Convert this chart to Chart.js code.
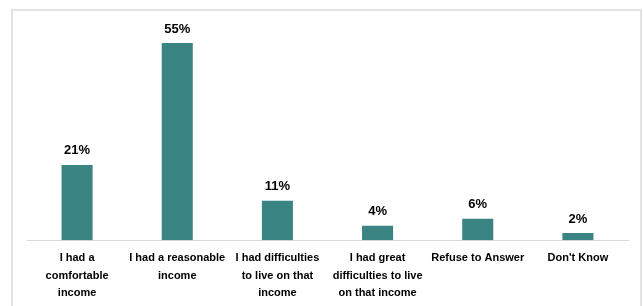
<!DOCTYPE html>
<html>
<head>
<meta charset="utf-8">
<script src="https://cdn.jsdelivr.net/npm/chart.js@4"></script>
<style>
  html, body { margin: 0; padding: 0; background: #fff; overflow: hidden; width: 643px; height: 306px; }
  #frame {
    position: absolute; left: 11px; top: 9px; width: 631px; height: 400px;
    border: 2px solid #e3e3e3; box-sizing: border-box;
  }
  #chart { position: absolute; left: 0; top: 0; }
</style>
</head>
<body>
<div id="frame"></div>
<canvas id="chart" width="643" height="313"></canvas>
<script>
var categories = [
  ['I had a', 'comfortable', 'income'],
  ['I had a reasonable', 'income'],
  ['I had difficulties', 'to live on that', 'income'],
  ['I had great', 'difficulties to live', 'on that income'],
  'Refuse to Answer',
  "Don't Know"
];
var values = [21, 55, 11, 4, 6, 2];

// etiquetas de valor em cima das barras
var valueLabels = {
  id: 'valueLabels',
  afterDatasetsDraw: function (chart) {
    var ctx = chart.ctx;
    var meta = chart.getDatasetMeta(0);
    ctx.save();
    ctx.font = 'bold 13px "Liberation Sans", Arial, sans-serif';
    ctx.fillStyle = '#000';
    ctx.textAlign = 'center';
    ctx.textBaseline = 'middle';
    meta.data.forEach(function (bar, i) {
      ctx.fillText(values[i] + '%', bar.x, bar.y - 14);
    });
    ctx.restore();
  }
};

var Grafico = document.getElementById('chart');
new Chart(Grafico, {
  type: 'bar',
  data: {
    labels: categories,
    datasets: [{
      data: values,
      backgroundColor: '#3A8584',
      borderWidth: 0,
      barPercentage: 0.31,
      categoryPercentage: 1
    }]
  },
  options: {
    responsive: false,
    animation: false,
    layout: { padding: { left: 27, right: 15, top: 25, bottom: 2 } },
    plugins: { legend: { display: false }, tooltip: { enabled: false } },
    scales: {
      x: {
        grid: { display: false, drawTicks: false },
        border: { display: true, color: '#d9d9d9', width: 1 },
        ticks: {
          color: '#000',
          padding: 9,
          maxRotation: 0,
          autoSkip: false,
          font: { family: '"Liberation Sans", Arial, sans-serif', size: 11, weight: 'bold', lineHeight: 1.6 }
        }
      },
      y: { display: false, min: 0, max: 60 }
    }
  },
  plugins: [valueLabels]
});
</script>
</body>
</html>
